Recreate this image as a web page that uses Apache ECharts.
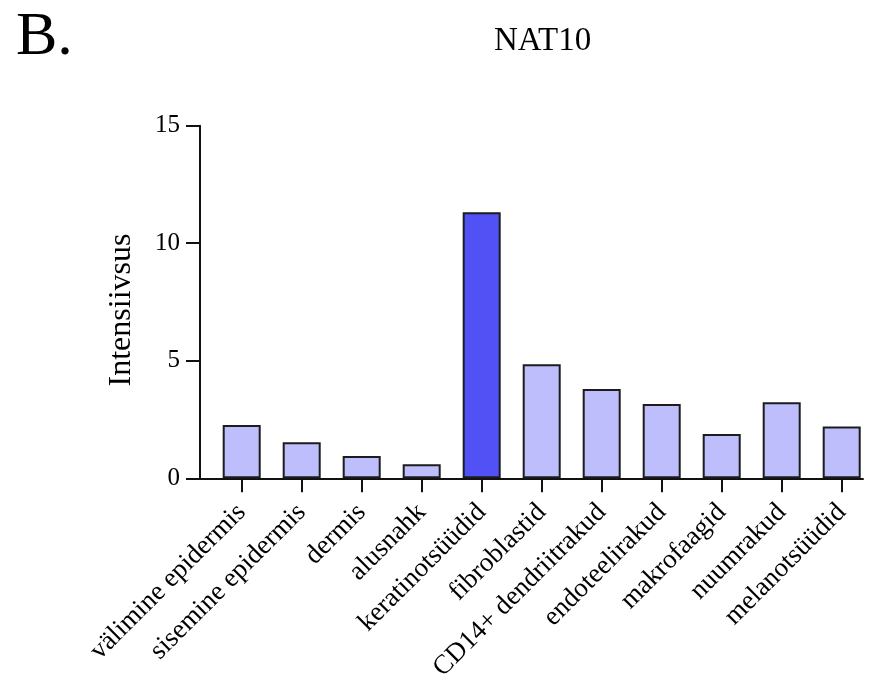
<!DOCTYPE html>
<html>
<head>
<meta charset="utf-8">
<script src="https://cdn.jsdelivr.net/npm/echarts@6/dist/echarts.min.js"></script>
<style>
  html, body { margin: 0; padding: 0; background: #fff; }
  #chart { width: 874px; height: 677px; }
</style>
</head>
<body>
<div id="chart"></div>
<script>
// Cell types / skin layers along the x axis
const categories = [
  'välimine epidermis', 'sisemine epidermis', 'dermis', 'alusnahk',
  'keratinotsüüdid', 'fibroblastid', 'CD14+ dendriitrakud',
  'endoteelirakud', 'makrofaagid', 'nuumrakud', 'melanotsüüdid'
];
// NAT10 intensity per category
const intensity = [2.27, 1.53, 0.95, 0.60, 11.32, 4.85, 3.80, 3.16, 1.88, 3.23, 2.20];
// y axis ticks
const yTicks = [0, 5, 10, 15];
// the category drawn in the strong colour
const highlighted = 'keratinotsüüdid';

const serif = '"Liberation Serif", "DejaVu Serif", serif';
const positions = categories.map((_, i) => i);

const chart = echarts.init(document.getElementById('chart'), null, { renderer: 'canvas' });
chart.setOption({
  animation: false,
  backgroundColor: '#fff',
  title: [
    { text: 'B.', left: 11, top: 2, textStyle: { fontFamily: serif, fontSize: 62, fontWeight: 'normal', color: '#000' } },
    { text: 'NAT10', left: 489, top: 20, textStyle: { fontFamily: serif, fontSize: 33, fontWeight: 'normal', color: '#000' } }
  ],
  grid: { left: 200, right: 11, top: 125.7, bottom: 198.7, containLabel: false, outerBoundsMode: 'none' },
  xAxis: {
    type: 'value',
    min: -0.695,
    max: 10.355,
    splitLine: { show: false },
    axisLine: { show: true, onZero: false, lineStyle: { color: '#111', width: 2 } },
    axisTick: { show: true, customValues: positions, length: 14, lineStyle: { color: '#111', width: 2 } },
    axisLabel: {
      customValues: positions,
      rotate: 45,
      margin: 30,
      fontFamily: serif,
      fontSize: 27,
      color: '#000',
      formatter: v => categories[Math.round(v)]
    }
  },
  yAxis: {
    type: 'value',
    min: yTicks[0],
    max: yTicks[yTicks.length - 1],
    interval: yTicks[1] - yTicks[0],
    name: 'Intensiivsus',
    nameLocation: 'middle',
    nameGap: 62,
    nameTextStyle: { fontFamily: serif, fontSize: 32, color: '#000', padding: [0, 16, 0, 0] },
    splitLine: { show: false },
    axisLine: { show: true, onZero: false, lineStyle: { color: '#111', width: 2 } },
    axisTick: { show: true, length: 14, lineStyle: { color: '#111', width: 2 } },
    axisLabel: { margin: 20, fontFamily: serif, fontSize: 25, color: '#000' }
  },
  series: [{
    type: 'bar',
    barWidth: 38,
    data: intensity.map((v, i) => ({
      value: [i, v],
      itemStyle: { color: categories[i] === highlighted ? '#5151f6' : '#bebefd' }
    })),
    itemStyle: { borderColor: '#1c1c1c', borderWidth: 2 }
  }]
});
</script>
</body>
</html>
